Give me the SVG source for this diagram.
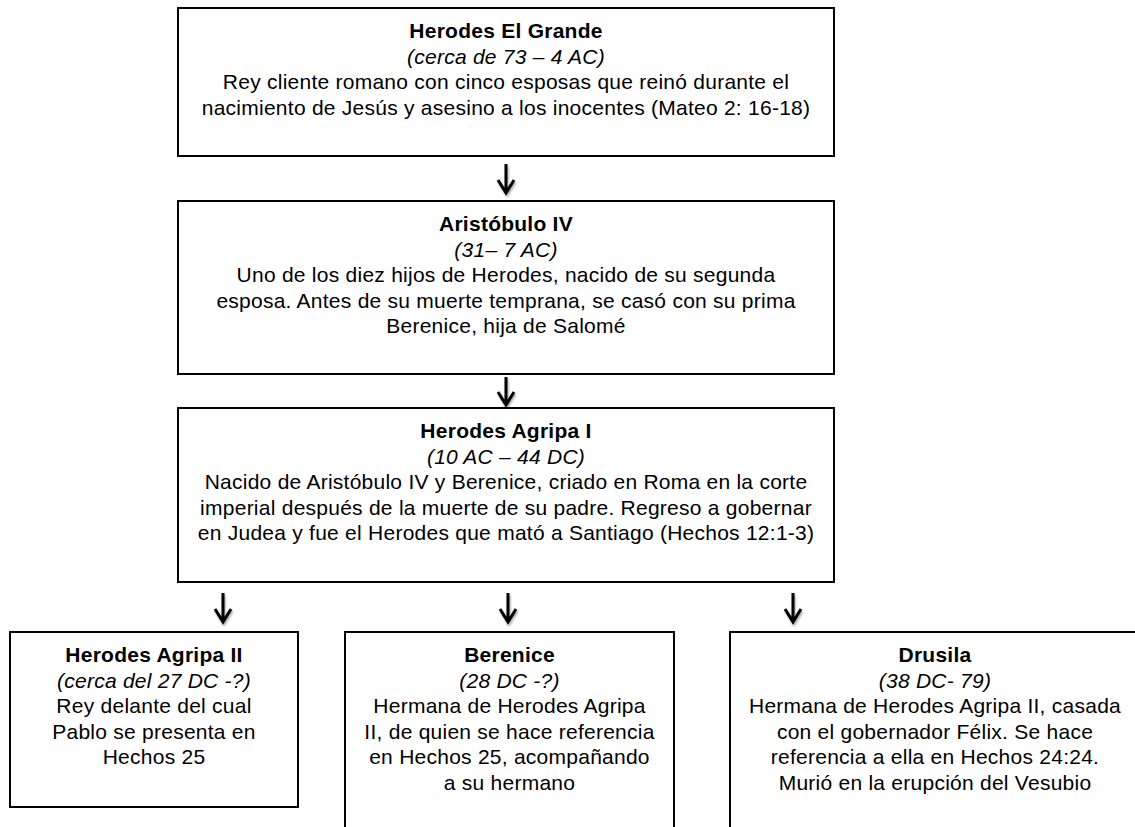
<svg xmlns="http://www.w3.org/2000/svg" width="1135" height="827" viewBox="0 0 1135 827">
<style>
.box{fill:#fff;stroke:#000;stroke-width:2}
text{font-family:"Liberation Sans",Arial,sans-serif;font-size:21px;fill:#000;text-anchor:middle;letter-spacing:0.25px}
.t{font-weight:bold}
.d{font-style:italic}
.arr{fill:none;stroke:#000;stroke-width:3;stroke-linecap:butt;stroke-linejoin:miter}
</style>
<defs>
<filter id="sh" x="-50%" y="-50%" width="200%" height="200%">
<feDropShadow dx="1" dy="2" stdDeviation="1" flood-color="#000" flood-opacity="0.35"/>
</filter>
</defs>
<rect width="1135" height="827" fill="#fff"/>
<g id="connectors" filter="url(#sh)">
<path class="arr" d="M506 164V193M498 180L506 193L514 180"/>
<path class="arr" d="M506 377V405M498 392L506 405L514 392"/>
<path class="arr" d="M223 593V622M215 609L223 622L231 609"/>
<path class="arr" d="M508 593V622M500 609L508 622L516 609"/>
<path class="arr" d="M793 593V622M785 609L793 622L801 609"/>
</g>
<g id="herodes-el-grande">
<rect class="box" x="178" y="8" width="656" height="148"/>
<text class="t" x="506" y="38">Herodes El Grande</text>
<text class="d" x="506" y="63.5">(cerca de 73 – 4 AC)</text>
<text x="506" y="89">Rey cliente romano con cinco esposas que reinó durante el</text>
<text x="506" y="114.5">nacimiento de Jesús y asesino a los inocentes (Mateo 2: 16-18)</text>
</g>
<g id="aristobulo-iv">
<rect class="box" x="178" y="201" width="656" height="173"/>
<text class="t" x="506" y="231">Aristóbulo IV</text>
<text class="d" x="506" y="256.5">(31– 7 AC)</text>
<text x="506" y="282">Uno de los diez hijos de Herodes, nacido de su segunda</text>
<text x="506" y="307.5">esposa. Antes de su muerte temprana, se casó con su prima</text>
<text x="506" y="333">Berenice, hija de Salomé</text>
</g>
<g id="herodes-agripa-i">
<rect class="box" x="178" y="408" width="656" height="174"/>
<text class="t" x="506" y="438">Herodes Agripa I</text>
<text class="d" x="506" y="463.5">(10 AC – 44 DC)</text>
<text x="506" y="489">Nacido de Aristóbulo IV y Berenice, criado en Roma en la corte</text>
<text x="506" y="514.5">imperial después de la muerte de su padre. Regreso a gobernar</text>
<text x="506" y="540">en Judea y fue el Herodes que mató a Santiago (Hechos 12:1-3)</text>
</g>
<g id="herodes-agripa-ii">
<rect class="box" x="10" y="632" width="288" height="175"/>
<text class="t" x="154" y="662">Herodes Agripa II</text>
<text class="d" x="154" y="687.5">(cerca del 27 DC -?)</text>
<text x="154" y="713">Rey delante del cual</text>
<text x="154" y="738.5">Pablo se presenta en</text>
<text x="154" y="764">Hechos 25</text>
</g>
<g id="berenice">
<rect class="box" x="345" y="632" width="329" height="210"/>
<text class="t" x="509.5" y="662">Berenice</text>
<text class="d" x="509.5" y="687.5">(28 DC -?)</text>
<text x="509.5" y="713">Hermana de Herodes Agripa</text>
<text x="509.5" y="738.5">II, de quien se hace referencia</text>
<text x="509.5" y="764">en Hechos 25, acompañando</text>
<text x="509.5" y="789.5">a su hermano</text>
</g>
<g id="drusila">
<rect class="box" x="730" y="632" width="420" height="210"/>
<text class="t" x="935" y="662">Drusila</text>
<text class="d" x="935" y="687.5">(38 DC- 79)</text>
<text x="935" y="713">Hermana de Herodes Agripa II, casada</text>
<text x="935" y="738.5">con el gobernador Félix. Se hace</text>
<text x="935" y="764">referencia a ella en Hechos 24:24.</text>
<text x="935" y="789.5">Murió en la erupción del Vesubio</text>
</g>
</svg>
